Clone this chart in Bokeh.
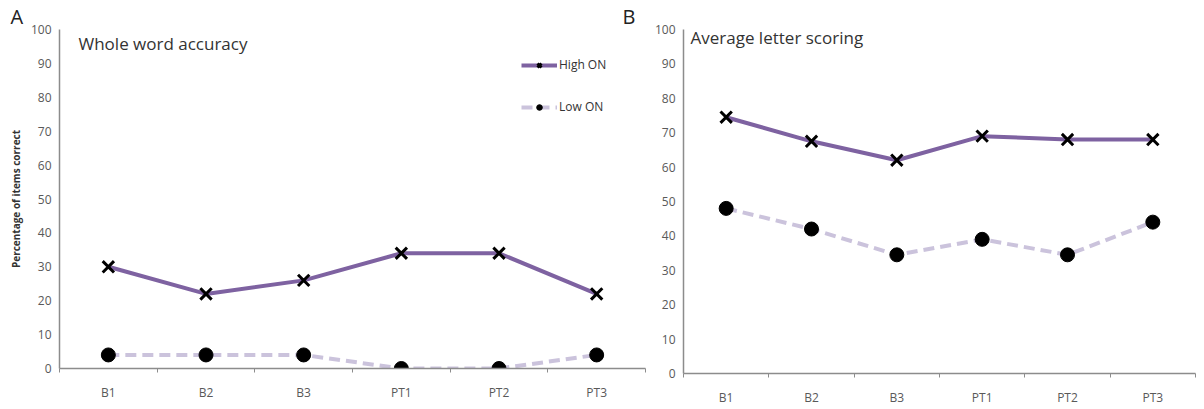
from bokeh.plotting import figure
from bokeh.models import Range1d, FixedTicker, Label, Legend, Title
from bokeh.layouts import row
from bokeh.embed import file_html
from bokeh.resources import INLINE
import numpy as np

categories = ["B1", "B2", "B3", "PT1", "PT2", "PT3"]
word_high = [30, 22, 26, 34, 34, 22]
word_low = [4, 4, 4, 0, 0, 4]
letter_high = [74.5, 67.5, 62, 69, 68, 68]
letter_low = [48, 42, 34.5, 39, 34.5, 44]
y_ticks = list(range(0, 101, 10))

FONT = "Open Sans"
PURPLE = "#7e62a1"
LAVENDER = "#cbc3dc"
AXIS = "#8c8c8c"
TICKTXT = "#595959"

xs = list(np.arange(len(categories)) + 0.5)


def make_panel(width, height, mb_left, mb_right, mb_top, mb_bottom, high, low,
               title, letter, letter_offset, title_x, title_y, ylabel=None, legend=False):
    p = figure(width=width, height=height, output_backend="svg", toolbar_location=None,
               x_range=Range1d(0, len(categories)), y_range=Range1d(0, 100),
               min_border_left=mb_left, min_border_right=mb_right,
               min_border_top=mb_top, min_border_bottom=mb_bottom,
               outline_line_color=None)
    p.title = Title(text=letter, align="left", offset=letter_offset, standoff=0,
                    text_font=FONT, text_font_size="20px", text_font_style="normal",
                    text_color="#222222", vertical_align="bottom")
    p.xgrid.visible = False
    p.ygrid.visible = False
    p.xaxis.ticker = FixedTicker(ticks=xs, minor_ticks=list(range(len(categories) + 1)))
    p.xaxis.major_label_overrides = {float(x): c for x, c in zip(xs, categories)}
    p.xaxis.minor_tick_line_color = AXIS
    p.xaxis.minor_tick_in = 0
    p.xaxis.minor_tick_out = 4
    p.xaxis.major_label_standoff = 9
    p.yaxis.ticker = FixedTicker(ticks=y_ticks, minor_ticks=[])
    p.yaxis.major_tick_in = 0
    p.yaxis.major_tick_out = 4
    p.yaxis.major_label_standoff = 4
    for ax in (p.xaxis, p.yaxis):
        ax.axis_line_color = AXIS
        ax.axis_line_width = 1.5
        ax.major_tick_line_color = AXIS if ax is p.yaxis else None
        ax.major_label_text_font = FONT
        ax.major_label_text_font_size = "12px"
        ax.major_label_text_color = TICKTXT
    if ylabel:
        p.yaxis.axis_label = ylabel
        p.yaxis.axis_label_text_font = FONT
        p.yaxis.axis_label_text_font_size = "10px"
        p.yaxis.axis_label_text_font_style = "bold"
        p.yaxis.axis_label_text_color = "#333333"
        p.yaxis.axis_label_standoff = 5

    r1 = p.line(xs, high, line_color=PURPLE, line_width=4)
    r2 = p.scatter(xs, high, marker="x", size=16, line_color="black", line_width=3)
    r3 = p.line(xs, low, line_color=LAVENDER, line_width=4, line_dash="11 6")
    r4 = p.scatter(xs, low, marker="circle", size=14, fill_color="black", line_color="black")

    if legend:
        lg = Legend(items=[("High ON", [r1, r2]), ("Low ON", [r3, r4])],
                    location=(462, 253), orientation="vertical",
                    background_fill_alpha=0, border_line_color=None,
                    padding=0, margin=0, spacing=25, glyph_width=36, glyph_height=14,
                    label_text_font=FONT, label_text_font_size="12px",
                    label_text_color="#333333", label_standoff=2)
        p.add_layout(lg)

    p.add_layout(Label(x=title_x, y=title_y, x_units="screen", y_units="screen", text=title,
                       text_font=FONT, text_font_size="17px", text_color="#333333",
                       text_baseline="middle"))
    return p


pa = make_panel(650, 403, 59, 5, 27, 33, word_high, word_low,
                "Whole word accuracy", "A", -49, 19, 325,
                ylabel="Percentage of items correct", legend=True)
pb = make_panel(583, 408, 70, 1, 24, 28, letter_high, letter_low,
                "Average letter scoring", "B", -61, 7, 336)
pb.background_fill_alpha = 0
pb.border_fill_alpha = 0
pb.margin = (0, 0, 0, -37)

layout = row(pa, pb)
open("out.html", "w").write(file_html(layout, INLINE))
